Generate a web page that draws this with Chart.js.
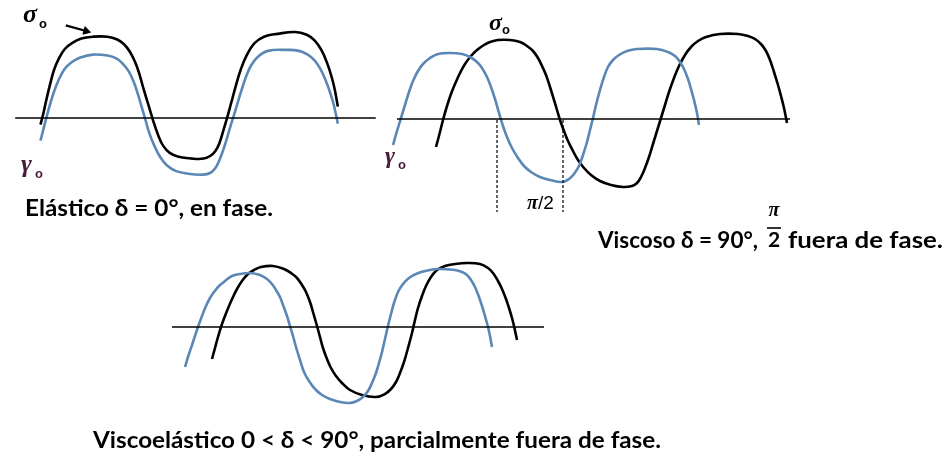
<!DOCTYPE html>
<html lang="es">
<head>
<meta charset="utf-8">
<title>Respuesta elástica, viscosa y viscoelástica</title>
<script src="https://cdn.jsdelivr.net/npm/chart.js@4.4.1/dist/chart.umd.min.js"></script>
<style>
  html, body { margin: 0; padding: 0; background: #ffffff; }
  #stage { position: relative; width: 946px; height: 455px; overflow: hidden; background: #ffffff; }
  .panel { position: absolute; }
  .panel canvas { display: block; }
  #labels { position: absolute; left: 0; top: 0; pointer-events: none; }
  .cap { font-family: Lato, "Open Sans", sans-serif; font-weight: 700; fill: #000; }
  .sym { font-family: "Liberation Serif", "DejaVu Serif", serif; font-style: italic; font-weight: 700; }
  .sub { font-family: "Liberation Sans", Arial, sans-serif; font-weight: 700; }
</style>
</head>
<body>
<div id="stage">
  <div class="panel" style="left:0px;top:0px;"><canvas id="cElastic" width="390" height="200"></canvas></div>
  <div class="panel" style="left:380px;top:0px;"><canvas id="cViscous" width="420" height="220"></canvas></div>
  <div class="panel" style="left:160px;top:240px;"><canvas id="cViscoelastic" width="400" height="180"></canvas></div>

  <svg id="labels" width="946" height="455" xmlns="http://www.w3.org/2000/svg">
    <!-- panel 1 symbols -->
    <text class="sym" x="23" y="22" font-size="26" fill="#000">σ</text>
    <text class="sub" x="39" y="27.5" font-size="13" fill="#000">o</text>
    <text class="sym" x="21" y="172" font-size="26" fill="#4b1c3a">γ</text>
    <text class="sub" x="35" y="178" font-size="13" fill="#4b1c3a">o</text>

    <!-- panel 2 symbols -->
    <text class="sym" x="489" y="30" font-size="24" fill="#000">σ</text>
    <text class="sub" x="502" y="34" font-size="13" fill="#000">o</text>
    <text class="sym" x="385" y="163" font-size="24" fill="#4b1c3a">γ</text>
    <text class="sub" x="398" y="168.5" font-size="13" fill="#4b1c3a">o</text>
    <text x="527" y="209" font-family="Liberation Sans, Arial, sans-serif" font-size="19" fill="#000"><tspan font-style="italic" font-family="Liberation Serif, serif" font-weight="700" font-size="20">π</tspan>/2</text>

    <!-- captions -->
    <text id="cap1" class="cap" x="25" y="216" font-size="22" textLength="248" lengthAdjust="spacingAndGlyphs">Elástico δ = 0°, en fase.</text>

    <text id="cap2a" class="cap" x="598" y="248" font-size="22" textLength="160" lengthAdjust="spacingAndGlyphs">Viscoso δ = 90°,</text>
    <text class="sym" x="774" y="216" font-size="20" text-anchor="middle" fill="#000">π</text>
    <line x1="767" y1="228" x2="781" y2="228" stroke="#000" stroke-width="1.6"/>
    <text class="cap" x="774" y="247" font-size="21" text-anchor="middle">2</text>
    <text id="cap2b" class="cap" x="788" y="248" font-size="22" textLength="155" lengthAdjust="spacingAndGlyphs">fuera de fase.</text>

    <text id="cap3" class="cap" x="93" y="448" font-size="22">Viscoelástico 0 &lt; δ &lt; 90°, parcialmente fuera de fase.</text>
  </svg>
</div>

<script>
// Traces of strain (γ, blue) and stress (σ, black) against time t.
// x = t (arbitrary units from the left of each panel), y = amplitude (0 on the time axis).

// --- Elastic: δ = 0°, stress and strain in phase ---
const elasticStress = [
  [36,-7],[39,5],[42,19],[46,36],[50,51],[55,63],[61,73],[68,79],[78,84],[90,86],[105,86],[115,83],
  [122,78],[128,70],[133,60],[137,49],[142,31],[147,14],[152,-3],[157,-18],[162,-29],[169,-37],
  [178,-41],[192,-43],[204,-43],[211,-40],[216,-35],[220,-27],[224,-14],[228,0],[232,15],[237,34],
  [242,51],[248,66],[256,79],[266,86],[280,89],[298,91],[310,88],[318,82],[325,72],[331,58],[336,42],
  [339,29],[342,12]
];
const elasticStrain = [
  [36,-24],[39,-12],[42,0],[46,15],[50,28],[55,41],[61,52],[68,59],[77,64],[90,67],[105,66],[114,63],
  [121,57],[127,49],[132,38],[136,26],[140,12],[144,-2],[148,-16],[153,-29],[159,-41],[166,-50],
  [175,-56],[188,-59],[203,-60],[211,-58],[216,-53],[220,-45],[224,-34],[228,-21],[232,-7],[236,6],
  [240,20],[244,33],[248,45],[253,56],[260,65],[270,71],[290,72],[302,71],[311,67],[318,61],[324,52],
  [329,41],[333,30],[337,17],[340,4],[342,-6]
];
const elasticAxis = [[10,0],[381,0]];
const elasticArrow = [[62,98],[83,92]];

// --- Viscous: δ = 90°, stress leads strain by π/2 ---
const viscousStrain = [
  [13,-26],[17,-12],[21,1],[25,14],[29,27],[33,38],[38,48],[43,55],[50,61],[58,65],[70,66],[82,65],
  [90,62],[97,57],[102,51],[107,42],[111,32],[115,20],[119,6],[123,-7],[127,-18],[132,-29],[138,-39],
  [144,-47],[151,-53],[160,-58],[170,-61],[182,-63],[189,-60],[194,-55],[199,-47],[203,-36],[207,-23],
  [210,-11],[213,1],[216,14],[220,29],[224,42],[228,52],[233,59],[239,64],[247,68],[257,70],[277,70],
  [288,67],[295,63],[300,57],[304,50],[308,40],[311,30],[314,19],[317,6],[319,-6]
];
const viscousStress = [
  [56,-28],[60,-13],[63,-1],[67,13],[71,25],[75,35],[80,46],[85,55],[91,63],[97,69],[104,74],[110,77],
  [118,79],[130,79],[140,77],[147,73],[153,68],[158,61],[162,53],[166,44],[170,32],[174,19],[177,9],
  [180,-1],[184,-12],[188,-22],[193,-32],[198,-41],[204,-49],[211,-56],[220,-62],[231,-66],[243,-68],
  [252,-67],[257,-64],[261,-58],[265,-49],[269,-38],[273,-25],[277,-12],[281,1],[285,14],[289,27],
  [294,41],[299,53],[305,64],[311,72],[318,78],[326,82],[340,85],[358,85],[368,83],[375,80],[381,75],
  [386,68],[390,59],[394,47],[398,34],[401,23],[404,11],[407,-4]
];
const viscousAxis = [[17,0],[410,0]];
// guides at the strain zero-crossing and the stress zero-crossing (π/2 apart)
const viscousGuideA = [[117,-1],[117,-93]];
const viscousGuideB = [[183,-1],[183,-93]];

// --- Viscoelastic: 0 < δ < 90° ---
const viscoelasticStrain = [
  [25,-40],[28,-30],[32,-18],[35,-9],[38,0],[42,11],[46,21],[50,29],[54,35],[59,41],[65,46],[72,51],
  [80,53],[90,54],[100,52],[107,48],[112,43],[116,37],[120,30],[123,22],[127,11],[130,1],[133,-9],
  [136,-20],[140,-33],[144,-45],[149,-54],[155,-62],[162,-68],[170,-72],[180,-75],[190,-76],[197,-74],
  [203,-70],[208,-64],[212,-56],[216,-46],[219,-36],[222,-25],[225,-12],[228,1],[231,13],[234,24],
  [238,35],[243,43],[249,49],[256,53],[265,56],[277,58],[295,57],[302,55],[307,52],[311,47],[315,40],
  [319,30],[322,21],[325,11],[328,0],[330,-9],[332,-20]
];
const viscoelasticStress = [
  [52,-32],[55,-21],[58,-10],[61,0],[65,11],[69,21],[73,30],[77,38],[82,46],[88,53],[94,57],[101,60],
  [113,61],[124,58],[131,54],[137,49],[142,42],[146,35],[150,25],[153,15],[157,1],[160,-10],[163,-21],
  [167,-32],[171,-41],[176,-49],[182,-56],[190,-63],[202,-68],[216,-70],[225,-67],[231,-62],[236,-55],
  [240,-46],[244,-35],[248,-21],[252,-6],[255,7],[258,19],[262,31],[266,41],[271,50],[277,57],[285,61],
  [295,63],[307,64],[320,63],[328,59],[333,54],[338,46],[342,38],[346,28],[349,19],[352,9],[354,1],
  [357,-13]
];
const viscoelasticAxis = [[12,0],[384,0]];

const STRAIN_COLOR = '#5a87b5';
const STRESS_COLOR = '#000000';

const toXY = arr => arr.map(([x, y]) => ({ x, y }));

function curve(points, color) {
  return {
    data: toXY(points),
    borderColor: color,
    borderWidth: 2.6,
    pointRadius: 0,
    fill: false,
    tension: 0.4,
    borderJoinStyle: 'round',
    clip: false
  };
}
function straight(points, width, dash) {
  return {
    data: toXY(points),
    borderColor: '#000000',
    borderWidth: width,
    borderDash: dash || [],
    pointRadius: 0,
    fill: false,
    tension: 0,
    clip: false
  };
}

function panel(canvasId, tMax, yMin, yMax, datasets) {
  return new Chart(document.getElementById(canvasId), {
    type: 'line',
    data: { datasets },
    options: {
      responsive: false,
      animation: false,
      events: [],
      layout: { padding: 0 },
      plugins: { legend: { display: false }, tooltip: { enabled: false } },
      scales: {
        x: { type: 'linear', display: false, min: 0, max: tMax },
        y: { type: 'linear', display: false, min: yMin, max: yMax }
      }
    }
  });
}

const arrow = {
  data: toXY(elasticArrow),
  borderColor: '#000000',
  backgroundColor: '#000000',
  borderWidth: 2.2,
  pointRadius: [0, 4.5],
  pointStyle: 'triangle',
  rotation: 106,
  pointBackgroundColor: '#000000',
  pointBorderColor: '#000000',
  pointBorderWidth: 1,
  tension: 0,
  fill: false,
  clip: false
};

panel('cElastic', 390, -81, 119, [
  straight(elasticAxis, 1.6),
  curve(elasticStrain, STRAIN_COLOR),
  curve(elasticStress, STRESS_COLOR),
  arrow
]);

panel('cViscous', 420, -101, 119, [
  straight(viscousAxis, 1.6),
  straight(viscousGuideA, 1.2, [3, 2]),
  straight(viscousGuideB, 1.2, [3, 2]),
  curve(viscousStrain, STRAIN_COLOR),
  curve(viscousStress, STRESS_COLOR)
]);

panel('cViscoelastic', 400, -93, 87, [
  straight(viscoelasticAxis, 1.6),
  curve(viscoelasticStrain, STRAIN_COLOR),
  curve(viscoelasticStress, STRESS_COLOR)
]);

// Third caption uses the same horizontal compression as the first one.
(function () {
  const c1 = document.getElementById('cap1');
  const c3 = document.getElementById('cap3');
  c1.removeAttribute('textLength');
  const natural1 = c1.getComputedTextLength();
  c1.setAttribute('textLength', '248');
  const k = 248 / natural1;
  const natural3 = c3.getComputedTextLength();
  c3.setAttribute('textLength', String(Math.round(natural3 * k)));
  c3.setAttribute('lengthAdjust', 'spacingAndGlyphs');
})();
</script>
</body>
</html>
